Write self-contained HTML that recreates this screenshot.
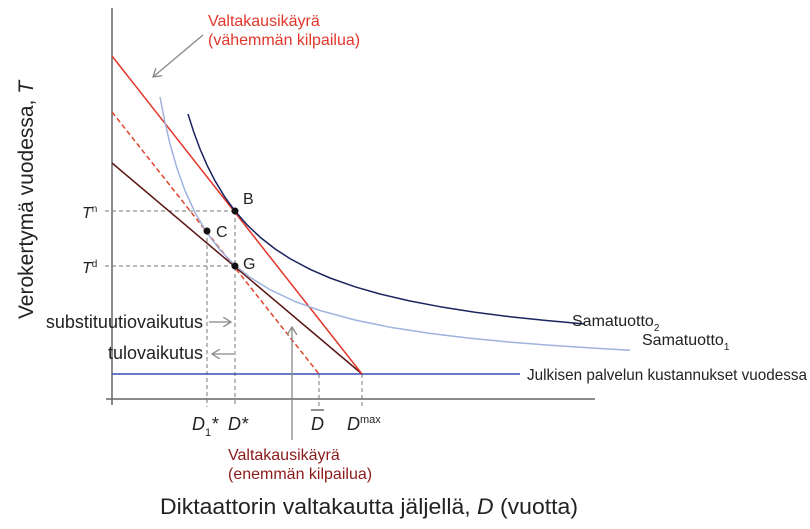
<!DOCTYPE html>
<html><head><meta charset="utf-8"><style>
body{margin:0;background:#fff}
svg{display:block;font-family:"Liberation Sans",sans-serif}
</style></head><body>
<svg width="810" height="529" viewBox="0 0 810 529">
<defs>
<marker id="ah" markerWidth="10" markerHeight="10" refX="8" refY="5" orient="auto" markerUnits="userSpaceOnUse"><path d="M0,0 L8,5 L0,10" fill="none" stroke="#888" stroke-width="1.3"/></marker>
</defs>
<line x1="112" y1="8" x2="112" y2="405" stroke="#666" stroke-width="1.5"/>
<line x1="106" y1="399" x2="595" y2="399" stroke="#666" stroke-width="1.5"/>
<g stroke="#777" stroke-width="1" stroke-dasharray="4,3" fill="none">
<line x1="105" y1="211" x2="235" y2="211"/>
<line x1="105" y1="266" x2="235" y2="266"/>
<line x1="207" y1="231" x2="207" y2="407"/>
<line x1="235" y1="211" x2="235" y2="407"/>
<line x1="319" y1="374" x2="319" y2="407"/>
<line x1="362" y1="374" x2="362" y2="407"/>
</g>
<line x1="112" y1="374" x2="520" y2="374" stroke="#3a4fb0" stroke-width="1.5"/>
<line x1="112" y1="112" x2="319" y2="374" stroke="#e2452e" stroke-width="1.5" stroke-dasharray="5,3"/>
<line x1="112" y1="163" x2="362" y2="374" stroke="#5a1414" stroke-width="1.5"/>
<line x1="112" y1="56" x2="362" y2="374" stroke="#e2362a" stroke-width="1.5"/>
<polyline fill="none" stroke="#9fb3dc" stroke-width="1.5" stroke-linejoin="round" points="160,97 165,122.5 170,143.8 177,168.3 185,190.6 195,212.6 207,233 220,250 235,265.3 250,277.3 270,289.7 295,301.5 320,310.5 355,320 390,327.2 430,333.4 470,338.2 510,342.1 550,345.3 590,347.9 630,350.2"/>
<polyline fill="none" stroke="#1c2460" stroke-width="1.5" stroke-linejoin="round" points="188,114 194,132.8 200,148.9 207,165.1 215,180.8 225,197.3 235,211 247,224.8 260,237.1 275,248.9 290,258.6 310,269.3 330,278 355,286.8 380,294 410,301 440,306.7 475,312.2 510,316.7 545,320.4 585,324"/>
<circle cx="235" cy="211" r="3.5" fill="#111"/>
<circle cx="235" cy="266" r="3.5" fill="#111"/>
<circle cx="207" cy="231" r="3.5" fill="#111"/>
<g font-size="16" fill="#222">
<text x="243" y="204">B</text>
<text x="216" y="237">C</text>
<text x="243" y="269">G</text>
<text x="82" y="218" font-style="italic">T<tspan font-size="10" font-style="normal" dy="-6">n</tspan></text>
<text x="82" y="273" font-style="italic">T<tspan font-size="10" font-style="normal" dy="-6">d</tspan></text>
<text x="203" y="328" text-anchor="end" font-size="18">substituutiovaikutus</text>
<text x="203" y="359" text-anchor="end" font-size="18">tulovaikutus</text>
<text x="192" y="430" font-style="italic" font-size="18">D<tspan font-size="11" font-style="normal" dy="6">1</tspan><tspan dy="-6">*</tspan></text>
<text x="228" y="430" font-style="italic" font-size="18">D*</text>
<text x="311" y="430" font-style="italic" font-size="18">D</text>
<line x1="311" y1="410" x2="324" y2="410" stroke="#222" stroke-width="1"/>
<text x="347" y="430" font-style="italic" font-size="18">D<tspan font-size="11" font-style="normal" dy="-7">max</tspan></text>
<text x="572" y="326">Samatuotto<tspan font-size="10" dy="5">2</tspan></text>
<text x="642" y="345">Samatuotto<tspan font-size="10" dy="5">1</tspan></text>
<text x="527" y="380" textLength="280" lengthAdjust="spacingAndGlyphs">Julkisen palvelun kustannukset vuodessa</text>
</g>
<line x1="209" y1="322" x2="231" y2="322" stroke="#888" stroke-width="1.2" marker-end="url(#ah)"/>
<line x1="234" y1="354" x2="212" y2="354" stroke="#888" stroke-width="1.2" marker-end="url(#ah)"/>
<line x1="203" y1="35" x2="153" y2="77" stroke="#888" stroke-width="1.3" marker-end="url(#ah)"/>
<line x1="292" y1="440" x2="292" y2="327" stroke="#888" stroke-width="1.3" marker-end="url(#ah)"/>
<g font-size="16">
<text x="208" y="26" fill="#e2362a">Valtakausikäyrä</text>
<text x="208" y="45" fill="#e2362a">(vähemmän kilpailua)</text>
<text x="228" y="460" fill="#8b1a1a">Valtakausikäyrä</text>
<text x="228" y="479" fill="#8b1a1a">(enemmän kilpailua)</text>
</g>
<text transform="translate(33,200) rotate(-90)" text-anchor="middle" font-size="21" fill="#222">Verokertymä vuodessa, <tspan font-style="italic">T</tspan></text>
<text x="369" y="514" text-anchor="middle" font-size="22" fill="#222" textLength="418" lengthAdjust="spacingAndGlyphs">Diktaattorin valtakautta jäljellä, <tspan font-style="italic">D</tspan> (vuotta)</text>
</svg>
</body></html>
